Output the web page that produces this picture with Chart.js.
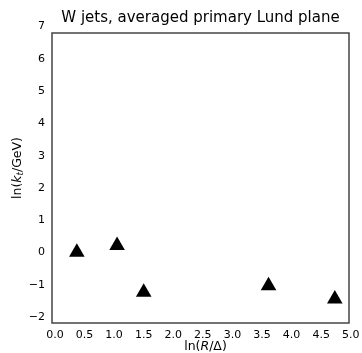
<!DOCTYPE html>
<html>
<head>
<meta charset="utf-8">
<script src="https://cdn.jsdelivr.net/npm/chart.js@4/dist/chart.umd.min.js"></script>
<style>
  html, body { margin: 0; padding: 0; background: #fff; }
  #lund { display: block; }
</style>
</head>
<body>
<canvas id="lund" width="362" height="353"></canvas>
<script>
// datos
const lnRDelta = [0.37, 1.05, 1.50, 3.61, 4.73];
const lnKt = [0.01, 0.22, -1.23, -1.03, -1.44];
const xTicks = [0, 0.5, 1, 1.5, 2, 2.5, 3, 3.5, 4, 4.5, 5];
const xTickLabels = ["0.0", "0.5", "1.0", "1.5", "2.0", "2.5", "3.0", "3.5", "4.0", "4.5", "5.0"];
const yTicks = [-2, -1, 0, 1, 2, 3, 4, 5, 6, 7];
const yTickLabels = ["\u22122", "\u22121", "0", "1", "2", "3", "4", "5", "6", "7"];

const fuente = "'DejaVu Sans', sans-serif";

// texto con partes en cursiva / subindice
function textoMixto(ctx, partes, x, y, tam) {
    const f = p => (p.it ? "italic " : "") + (p.sub ? tam * 0.7 : tam) + "px " + fuente;
    let ancho = 0;
    partes.forEach(p => { ctx.font = f(p); ancho += ctx.measureText(p.t).width; });
    let cx = x - ancho / 2;
    partes.forEach(p => {
        ctx.font = f(p);
        ctx.fillText(p.t, cx, y + (p.sub ? tam * 0.25 : 0));
        cx += ctx.measureText(p.t).width;
    });
}

const marco = {
    id: "marco",
    afterDraw(chart) {
        const { ctx, chartArea: a } = chart;
        ctx.save();
        ctx.strokeStyle = "#444";
        ctx.lineWidth = 1.5;
        ctx.strokeRect(a.left, a.top, a.right - a.left, a.bottom - a.top);

        ctx.fillStyle = "#000";
        ctx.textBaseline = "middle";
        textoMixto(ctx, [{ t: "ln(" }, { t: "R", it: true }, { t: "/\u0394)" }],
            (a.left + a.right) / 2 + 5, a.bottom + 24, 12.5);

        ctx.translate(18, (a.top + a.bottom) / 2 - 10);
        ctx.rotate(-Math.PI / 2);
        textoMixto(ctx, [{ t: "ln(" }, { t: "k", it: true }, { t: "t", it: true, sub: true }, { t: "/GeV)" }], 0, 0, 12.5);
        ctx.restore();
    }
};

const config = {
    type: "scatter",
    data: {
        datasets: [{
            data: lnRDelta.map((x, i) => ({ x: x, y: lnKt[i] })),
            pointStyle: "triangle",
            pointRadius: 9,
            pointHoverRadius: 9,
            backgroundColor: "#000",
            borderColor: "#000",
            borderWidth: 0
        }]
    },
    options: {
        responsive: false,
        animation: false,
        layout: { padding: { top: 0, right: 13, left: 0, bottom: 0 } },
        plugins: {
            legend: { display: false },
            tooltip: { enabled: false },
            title: {
                display: true,
                fullSize: false,
                text: "W jets, averaged primary Lund plane",
                color: "#000",
                font: { family: fuente, size: 15, weight: "normal" },
                padding: { top: 9, bottom: 6 },
                align: "center"
            }
        },
        scales: {
            x: {
                type: "linear",
                min: -0.05,
                max: 4.97,
                grid: { display: false, drawTicks: false },
                border: { display: false },
                afterBuildTicks: s => { s.ticks = xTicks.map(v => ({ value: v })); },
                afterFit: s => { s.height = 30; s.paddingLeft = 0; s.paddingRight = 0; },
                ticks: {
                    color: "#000",
                    font: { family: fuente, size: 11 },
                    padding: 6,
                    maxRotation: 0,
                    autoSkip: false,
                    callback: (v) => xTickLabels[xTicks.indexOf(v)]
                }
            },
            y: {
                type: "linear",
                min: -2.18,
                max: 6.8,
                grid: { display: false, drawTicks: false },
                border: { display: false },
                afterBuildTicks: s => { s.ticks = yTicks.map(v => ({ value: v })); },
                afterFit: s => { s.width = 52; s.paddingTop = 0; s.paddingBottom = 0; },
                ticks: {
                    color: "#000",
                    font: { family: fuente, size: 11 },
                    padding: 7,
                    autoSkip: false,
                    callback: (v) => yTickLabels[yTicks.indexOf(v)]
                }
            }
        }
    },
    plugins: [marco]
};

new Chart(document.getElementById("lund").getContext("2d"), config);
</script>
</body>
</html>
